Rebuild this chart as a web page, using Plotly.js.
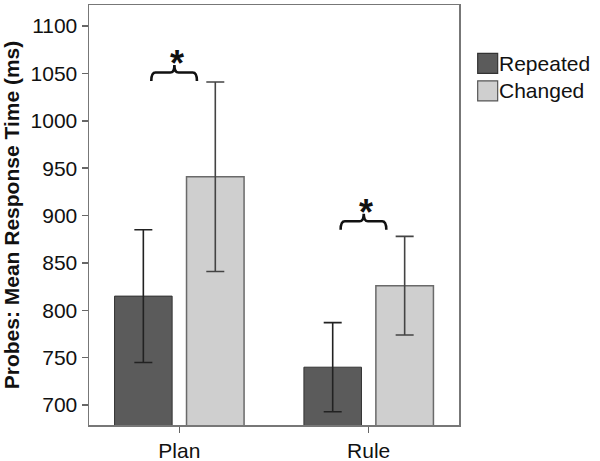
<!DOCTYPE html>
<html>
<head>
<meta charset="utf-8">
<script src="https://cdn.plot.ly/plotly-3.0.1.min.js"></script>
<style>html,body{margin:0;padding:0;background:#fff;}#chart{width:600px;height:461px;}</style>
</head>
<body>
<div id="chart"></div>
<script>
// ---- data ----
var categories = ['Plan', 'Rule'];
var seriesNames = ['Repeated', 'Changed'];
var repeatedMeans = [815, 740];
var repeatedErr = [70, 47];
var changedMeans = [941, 826];
var changedErr = [100, 52];
var yTicks = [700, 750, 800, 850, 900, 950, 1000, 1050, 1100];
var sigLabels = ['*', '*'];
var sigLevels = [1051, 894];   // height of the significance brace (ms)

// ---- styles ----
var darkFill = '#5b5b5b', darkLine = '#333333';
var lightFill = '#cfcfcf', lightLine = '#6a6a6a';
var FONT = 'Liberation Sans, Arial, sans-serif';

var xPos = categories.map(function (c, i) { return i; });

var traces = [
  {
    type: 'bar', name: seriesNames[0], x: xPos, y: repeatedMeans,
    marker: {color: darkFill, line: {color: darkLine, width: 1}},
    error_y: {type: 'data', array: repeatedErr, visible: true, color: '#222', thickness: 1.6, width: 9},
    showlegend: false, hoverinfo: 'skip'
  },
  {
    type: 'bar', name: seriesNames[1], x: xPos, y: changedMeans,
    marker: {color: lightFill, line: {color: lightLine, width: 1.5}},
    error_y: {type: 'data', array: changedErr, visible: true, color: '#444', thickness: 1.6, width: 9},
    showlegend: false, hoverinfo: 'skip'
  }
];

// significance braces
var shapes = [];
var annotations = [];
var braceL = -0.148, braceR = 0.093, braceC = -0.026;
sigLevels.forEach(function (yH, i) {
  var x0 = xPos[i] + braceL, x1 = xPos[i] + braceR, xc = xPos[i] + braceC;
  var yE = yH - 9, yT = yH + 8, r = 0.022;
  var p = 'M' + x0 + ',' + yE + ' Q' + x0 + ',' + yH + ' ' + (x0 + r) + ',' + yH +
          ' L' + (xc - r) + ',' + yH + ' Q' + xc + ',' + yH + ' ' + xc + ',' + yT +
          ' Q' + xc + ',' + yH + ' ' + (xc + r) + ',' + yH +
          ' L' + (x1 - r) + ',' + yH + ' Q' + x1 + ',' + yH + ' ' + x1 + ',' + yE;
  shapes.push({type: 'path', xref: 'x', yref: 'y', path: p, line: {color: '#111', width: 2.6}});
  annotations.push({
    xref: 'x', yref: 'y', x: xc + 0.012, y: yT + 2, text: '<b>' + sigLabels[i] + '</b>',
    showarrow: false, xanchor: 'center', yanchor: 'bottom',
    font: {family: FONT, size: 36, color: '#111'}, yshift: -23
  });
});

// legend (drawn manually for the large swatches)
var legFills = [darkFill, lightFill], legLines = [darkLine, '#555'];
var legTop = [0.885, 0.8195], boxH = 0.048;
seriesNames.forEach(function (n, i) {
  shapes.push({type: 'rect', xref: 'paper', yref: 'paper',
    x0: 1.0505, x1: 1.1045, y0: legTop[i] - boxH, y1: legTop[i],
    fillcolor: legFills[i], line: {color: legLines[i], width: 1.2}});
  annotations.push({xref: 'paper', yref: 'paper', x: 1.103, y: legTop[i] - boxH / 2,
    text: n, showarrow: false, xanchor: 'left', yanchor: 'middle',
    font: {family: FONT, size: 21, color: '#111'}});
});

var layout = {
  width: 600, height: 461,
  margin: {l: 89, r: 141, t: 5, b: 36},
  paper_bgcolor: '#fff', plot_bgcolor: '#fff',
  barmode: 'group', bargap: 0.24, bargroupgap: 0.2,
  showlegend: false,
  font: {family: FONT, size: 21, color: '#111'},
  xaxis: {
    type: 'linear', range: [-0.477, 1.477],
    tickvals: xPos, ticktext: categories,
    ticks: 'outside', ticklen: 6, tickwidth: 1.5, tickcolor: '#666',
    showgrid: false, zeroline: false,
    showline: true, linecolor: '#777', linewidth: 1.5, mirror: true,
    tickfont: {family: FONT, size: 21, color: '#111'}
  },
  yaxis: {
    range: [679, 1122.2],
    tickvals: yTicks,
    ticks: 'outside', ticklen: 6, tickwidth: 1.5, tickcolor: '#666',
    showgrid: false, zeroline: false,
    showline: true, linecolor: '#777', linewidth: 1.5, mirror: true,
    tickfont: {family: FONT, size: 21, color: '#111'},
    title: {text: '<b>Probes: Mean Response Time (ms)</b>', font: {family: FONT, size: 21, color: '#111'}, standoff: 8}
  },
  shapes: shapes,
  annotations: annotations
};

Plotly.newPlot('chart', traces, layout, {displayModeBar: false, staticPlot: true});
</script>
</body>
</html>
